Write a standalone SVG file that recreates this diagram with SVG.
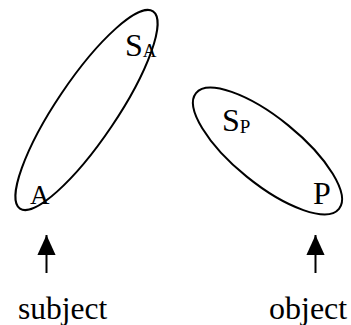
<svg xmlns="http://www.w3.org/2000/svg" width="351" height="325" viewBox="0 0 351 325">
<style>
.e{fill:none;stroke:#000;stroke-width:2}
text{font-family:'Liberation Serif','Times New Roman',Times,serif;fill:#000}
.c{stroke:#000;stroke-width:2;fill:none}
</style>
<defs>
<marker id="ah" markerUnits="userSpaceOnUse" markerWidth="20" markerHeight="22" refX="22" refY="10" orient="auto" viewBox="0 0 22 20">
<path d="M0,0 L22,10 L0,20 Z" fill="#000"/>
</marker>
</defs>
<rect width="351" height="325" fill="#fff"/>
<g id="subject-set">
<ellipse class="e" cx="86.5" cy="110" rx="119" ry="30" transform="rotate(-56 86.5 110)"/>
<text x="125" y="56" font-size="32" font-family="Liberation Serif, serif">S<tspan font-size="19" dy="1">A</tspan></text>
<text x="30" y="204" font-size="27" font-family="Liberation Serif, serif">A</text>
</g>
<g id="object-set">
<ellipse class="e" cx="267.5" cy="151" rx="92" ry="33" transform="rotate(39 267.5 151)"/>
<text x="222" y="131" font-size="32" font-family="Liberation Serif, serif">S<tspan font-size="19" dy="2">P</tspan></text>
<text x="313" y="204" font-size="32" font-family="Liberation Serif, serif">P</text>
</g>
<g id="connectors">
<line class="c" x1="46.5" y1="273" x2="46.5" y2="235" marker-end="url(#ah)"/>
<line class="c" x1="315.5" y1="273" x2="315.5" y2="235" marker-end="url(#ah)"/>
</g>
<g id="subject-label"><text x="18" y="319" font-size="31.5" font-family="Liberation Serif, serif">subject</text></g>
<g id="object-label"><text x="269" y="319" font-size="32" font-family="Liberation Serif, serif">object</text></g>
</svg>
